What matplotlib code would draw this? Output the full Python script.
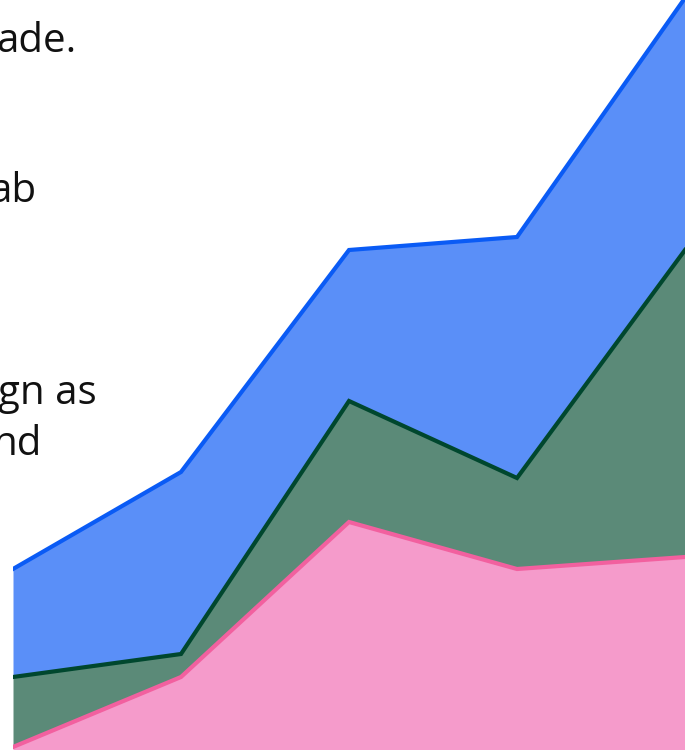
import matplotlib
matplotlib.use("Agg")
import matplotlib.pyplot as plt
import numpy as np

# Data (stacked area, 5 points)
x_labels = ["P1", "P2", "P3", "P4", "P5"]
pink_vals = [1.3, 8.3, 23.8, 19.1, 20.3]
green_vals = [7.0, 2.3, 12.1, 9.1, 30.7]
blue_vals = [10.8, 18.2, 15.1, 24.1, 25.2]

# Visible fragments of the (cropped) paragraph text on the left
text_fragments = ["ade.", "ab", "gn as", "nd"]
text_baselines_px = [52, 202, 404, 455]
text_right_px = [76, 36, 97, 42]

W, H = 685, 750
fig = plt.figure(figsize=(W / 100, H / 100), dpi=100)
fig.patch.set_facecolor("white")

ax = fig.add_axes([13 / W, 0, (W - 13) / W, 1])
ax.set_zorder(1)
xs = np.arange(len(x_labels))
p = np.array(pink_vals)
g = p + np.array(green_vals)
b = g + np.array(blue_vals)

pink_fill, pink_line = "#F59BCB", "#F2609F"
green_fill, green_line = "#5B8A78", "#00472E"
blue_fill, blue_line = "#5A8FF8", "#0A5BF5"

ax.fill_between(xs, g, b, color=blue_fill, lw=0)
ax.fill_between(xs, p, g, color=green_fill, lw=0)
ax.fill_between(xs, 0, p, color=pink_fill, lw=0)
ax.plot(xs, b, color=blue_line, lw=3.0, solid_joinstyle="miter")
ax.plot(xs, g, color=green_line, lw=3.0, solid_joinstyle="miter")
ax.plot(xs, p, color=pink_line, lw=3.0, solid_joinstyle="miter")

ax.set_xlim(0, len(x_labels) - 1)
ax.set_ylim(1.0, 76.0)
ax.axis("off")

for t, yb, xr in zip(text_fragments, text_baselines_px, text_right_px):
    fig.text(xr / W, 1 - yb / H, t, ha="right", va="baseline",
             fontsize=29, family=["Open Sans", "DejaVu Sans"], color="#111111")

fig.savefig("out.png", dpi=100)
